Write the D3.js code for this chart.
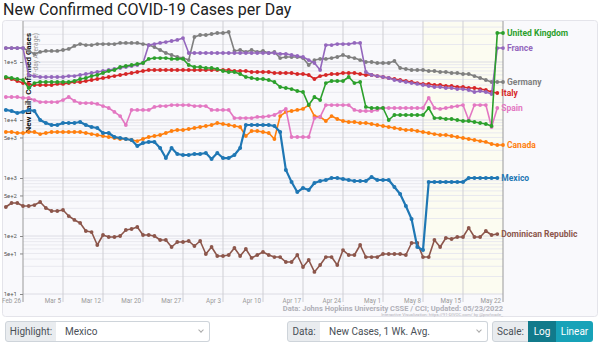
<!DOCTYPE html>
<html>
<head>
<meta charset="utf-8">
<title>New Confirmed COVID-19 Cases per Day</title>
<script src="https://cdn.jsdelivr.net/npm/d3@7/dist/d3.min.js"></script>
<style>
  body { margin: 0; background: #fff; font-family: Roboto, "Open Sans", sans-serif; }
  #graph { position: absolute; left: 0; top: 0; }
  .box { position: absolute; top: 321px; height: 19px; line-height: 19px; font-size: 10px; color: #495057;
         border: 1px solid #ced4da; box-sizing: content-box; white-space: nowrap; }
  .lbl { background: #e9ecef; border-radius: 3px 0 0 3px; text-align: center; }
  .sel { background: #fff; border-left: none; border-radius: 0 3px 3px 0; padding-left: 0; }
  .sel span { position: absolute; left: 9px; }
  .chev { position: absolute; right: 6px; top: 6px; width: 3px; height: 3px;
          border-right: 1px solid #aaa; border-bottom: 1px solid #aaa; transform: rotate(45deg); }
  .btn { color: #fff; border: none; height: 21px; line-height: 21px; text-align: center; }
</style>
</head>
<body>
<svg id="graph" width="600" height="344"></svg>

<div class="box lbl" style="left:5px;width:50px">Highlight:</div>
<div class="box sel" style="left:56px;width:153px"><span>Mexico</span><i class="chev"></i></div>
<div class="box lbl" style="left:287px;width:32px">Data:</div>
<div class="box sel" style="left:320px;width:167px"><span>New Cases, 1 Wk. Avg.</span><i class="chev"></i></div>
<div class="box lbl" style="left:492px;width:35px">Scale:</div>
<div class="box btn" style="left:528px;width:28px;background:#117a8b">Log</div>
<div class="box btn" style="left:556px;width:37px;background:#17a2b8;border-radius:0 3px 3px 0">Linear</div>

<script>
// 7-day average of new confirmed cases, one value per day starting Feb 23 (day -3)
var firstDay = -3;

var germanyCases = [174000, 174000, 174000, 174000,
    155000, 138000, 149000, 155000, 155000, 155000, 161000, 168000,
    189000, 204000, 196000, 196000, 204000, 204000, 204000, 204000,
    213000, 213000, 213000, 213000, 204000, 196000, 181000, 161000,
    143000, 132000, 122000, 117000, 108000, 270000, 292000, 292000,
    304000, 316000, 316000, 329000, 155000, 161000, 149000, 161000,
    149000, 155000, 143000, 149000, 117000, 122000, 122000, 122000,
    117000, 88800, 108000, 113000, 113000, 117000, 122000, 132000,
    122000, 117000, 108000, 100000, 100000, 96100, 96100, 96100,
    104000, 78800, 75700, 72800, 72800, 72800, 70000, 70000,
    67200, 67200, 64600, 64600, 62100, 62100, 57300, 53000,
    48900, 45200, 45200, 45200];

var franceCases = [174000, 174000, 174000, 174000,
    59700, 57300, 55100, 55100, 55100, 55100, 55100, 57300,
    57300, 59700, 62100, 64600, 67200, 70000, 72800, 75700,
    78800, 82000, 85300, 88800, 96100, 196000, 204000, 213000,
    221000, 230000, 240000, 259000, 143000, 143000, 143000, 143000,
    143000, 143000, 143000, 143000, 143000, 143000, 143000, 143000,
    143000, 143000, 143000, 143000, 138000, 138000, 132000, 127000,
    122000, 108000, 96100, 72800, 196000, 196000, 204000, 204000,
    204000, 213000, 213000, 67200, 59700, 57300, 55100, 53000,
    48900, 47000, 45200, 43400, 41800, 40100, 38600, 37100,
    37100, 35600, 35600, 34200, 34200, 32900, 30400, 31600,
    30400, 28100, 174000, 174000];

var ukCases = [55100, 53000, 50900, 48900,
    35600, 43400, 45200, 45200, 45200, 45200, 45200, 45200,
    47000, 50900, 53000, 57300, 59700, 64600, 70000, 72800,
    82000, 85300, 88800, 92400, 96100, 113000, 117000, 117000,
    117000, 113000, 113000, 113000, 88800, 82000, 82000, 78800,
    78800, 75700, 70000, 67200, 67200, 62100, 55100, 53000,
    50900, 50900, 48900, 45200, 37100, 35600, 34200, 31600,
    30400, 18100, 24900, 22100, 43400, 47000, 47000, 47000,
    55100, 43400, 45200, 16800, 16100, 16100, 16100, 10000,
    12200, 12200, 12200, 12200, 12200, 12200, 16100, 10800,
    10800, 10400, 10400, 10000, 9610, 9610, 9240, 8880,
    8530, 7880, 316000, 316000];

var italyCases = [53000, 50900, 47000, 43400,
    41800, 40100, 40100, 40100, 40100, 41800, 41800, 43400,
    45200, 45200, 47000, 48900, 50900, 53000, 55100, 57300,
    59700, 62100, 64600, 67200, 70000, 72800, 72800, 72800,
    72800, 72800, 72800, 72800, 72800, 72800, 72800, 72800,
    72800, 72800, 72800, 72800, 70000, 70000, 70000, 67200,
    67200, 67200, 67200, 64600, 64600, 64600, 64600, 62100,
    62100, 59700, 50900, 57300, 59700, 62100, 62100, 64600,
    64600, 64600, 62100, 59700, 59700, 57300, 55100, 53000,
    50900, 48900, 47000, 45200, 43400, 41800, 41800, 40100,
    40100, 38600, 38600, 37100, 37100, 35600, 35600, 34200,
    32900, 30400, 29200];

var spainCases = [24900, 24900, 24900, 24000,
    24000, 22100, 20400, 20400, 20400, 20400, 22100, 24900,
    21300, 19600, 19600, 19600, 18900, 17400, 16100, 13800,
    11700, 8200, 14900, 14900, 14900, 14900, 16800, 17400,
    17400, 18100, 18100, 18100, 18100, 17400, 17400, 17400,
    14900, 14900, 14900, 14900, 10800, 10800, 10800, 10800,
    11300, 11300, 11700, 12200, 13800, 15500, 5090, 5090,
    5090, 5090, 10800, 11300, 18100, 18100, 18100, 18100,
    18100, 14900, 14300, 14300, 14300, 14900, 16100, 16100,
    16100, 16100, 16100, 16100, 16100, 16100, 24000, 16100,
    15500, 16100, 16800, 17400, 18100, 10000, 18100, 18100,
    18100, 7570, 16100];

var canadaCases = [6210, 6210, 5970, 5970,
    6210, 6210, 5730, 5970, 6210, 6210, 6210, 6210,
    6210, 6210, 5970, 5730, 5510, 5300, 5090, 4890,
    4700, 4700, 4520, 4340, 4700, 5090, 5300, 5510,
    5970, 6460, 6720, 6720, 7000, 7280, 7570, 7880,
    8200, 8880, 8530, 8200, 7880, 7570, 5300, 6460,
    6460, 6210, 5970, 4700, 11700, 13800, 14300, 14900,
    15500, 18100, 11700, 11300, 9610, 11700, 10400, 9610,
    9240, 9240, 8880, 8880, 8530, 8200, 7880, 7570,
    7280, 7000, 6720, 6720, 6460, 6210, 5970, 5730,
    5510, 5510, 5300, 5090, 4890, 4700, 4520, 4340,
    4180, 3860, 3710, 3710];

var mexicoCases = [14900, 14300, 13200, 13800,
    14900, 14300, 10000, 8880, 8200, 8200, 8880, 8880,
    8880, 9240, 8200, 7570, 7280, 5970, 5970, 5090,
    4890, 4700, 4520, 3560, 4010, 4180, 4180, 3290,
    2210, 3290, 2590, 2490, 2490, 2590, 2590, 2700,
    2130, 2700, 2210, 2210, 2490, 3290, 8200, 8200,
    8200, 8200, 8200, 7880, 6210, 1380, 853, 573,
    672, 621, 820, 888, 924, 1000, 1000, 961,
    924, 888, 888, 888, 1040, 924, 924, 924,
    700, 530, 329, 196, 64.6, 57.3, 853, 853,
    853, 853, 853, 853, 853, 1000, 1000, 1000,
    1000, 1000, 1000];

var dominicanCases = [316, 371, 371, 329,
    329, 342, 386, 304, 270, 270, 281, 221,
    189, 168, 122, 117, 70, 104, 96.1, 96.1,
    100, 127, 132, 143, 104, 104, 100, 85.3,
    85.3, 64.6, 78.8, 78.8, 82, 67.2, 82, 48.9,
    64.6, 45.2, 45.2, 47, 62.1, 45.2, 59.7, 41.8,
    47, 53, 47, 43.4, 43.4, 35.6, 35.6, 47,
    29.2, 38.6, 24, 31.6, 43.4, 43.4, 31.6, 57.3,
    47, 47, 70, 43.4, 43.4, 43.4, 48.9, 48.9,
    48.9, 48.9, 47, 75.7, 75.7, 43.4, 43.4, 85.3,
    64.6, 92.4, 88.8, 96.1, 96.1, 138, 96.1, 96.1,
    122, 104, 108];

// weekly tick labels, one every 7 days from Feb 26 (day 0)
var tickLabels = ["Feb 26", "Mar 5", "Mar 12", "Mar 20", "Mar 27", "Apr 3", "Apr 10",
    "Apr 17", "Apr 24", "May 1", "May 8", "May 15", "May 22"];
var yTicks = [10, 50, 100, 500, 1000, 5000, 10000, 100000];

var highlight = "Mexico";

var series = [
    {name: "Dominican Republic", color: "#8c564b", values: dominicanCases},
    {name: "Canada", color: "#ff7f0e", values: canadaCases},
    {name: "Spain", color: "#e377c2", values: spainCases},
    {name: "Italy", color: "#d62728", values: italyCases},
    {name: "Germany", color: "#7f7f7f", values: germanyCases},
    {name: "France", color: "#9467bd", values: franceCases},
    {name: "United Kingdom", color: "#2ca02c", values: ukCases},
    {name: "Mexico", color: "#1f77b4", values: mexicoCases}
];
series.forEach(function(s) {
    s.points = s.values.map(function(v, i) { return {day: firstDay + i, value: v}; });
});

var svg = d3.select("#graph");

var x = d3.scaleLinear().domain([-3.5, 84]).range([3, 503]);
var y = d3.scaleLog().domain([10, 1e6]).range([294, 4]);
var plotTop = 21;

svg.append("text")
    .attr("x", 3)
    .attr("y", 15)
    .attr("font-size", 16)
    .attr("fill", "#222")
    .text("New Confirmed COVID-19 Cases per Day");

// panel behind the plot
svg.append("rect")
    .attr("x", 2.5).attr("y", 20.5)
    .attr("width", 595).attr("height", 296)
    .attr("rx", 3)
    .attr("fill", "#f9f9fc")
    .attr("stroke", "#e4e4ea");

// last two weeks shaded
svg.append("rect")
    .attr("x", x(70)).attr("y", plotTop)
    .attr("width", x(84) - x(70)).attr("height", y(10) - plotTop)
    .attr("fill", "#fcfcf1");

// log gridlines: every 1..9 x 10^k
var gridVals = [];
for (var k = 1; k <= 5; k++) {
    for (var m = 1; m <= 9; m++) {
        var v = m * Math.pow(10, k);
        if (y(v) > plotTop) gridVals.push(v);
    }
}
svg.append("g")
    .selectAll("line")
    .data(gridVals)
    .enter().append("line")
    .attr("x1", x(0)).attr("x2", x(84))
    .attr("y1", function(d) { return y(d); })
    .attr("y2", function(d) { return y(d); })
    .attr("stroke", function(d) { return String(d)[0] === "1" ? "#dcdce4" : "#e9e9ef"; })
    .attr("stroke-width", 1);

var tickDays = tickLabels.map(function(d, i) { return i * 7; });

svg.append("g")
    .selectAll("line")
    .data(tickDays)
    .enter().append("line")
    .attr("x1", function(d) { return x(d); })
    .attr("x2", function(d) { return x(d); })
    .attr("y1", plotTop).attr("y2", 302)
    .attr("stroke", function(d, i) { return (i === 0 || i === tickDays.length - 1) ? "#9a9a9a" : "#cfcfd4"; })
    .attr("stroke-width", 1);

svg.append("g")
    .selectAll("text")
    .data(tickDays)
    .enter().append("text")
    .attr("x", function(d) { return x(d) - 2; })
    .attr("y", 302.5)
    .attr("text-anchor", "end")
    .attr("font-size", 6.3)
    .attr("fill", "#9a9a9a")
    .text(function(d, i) { return tickLabels[i]; });

var yAxis = svg.append("g")
    .attr("transform", "translate(" + x(0) + ",0)")
    .call(d3.axisLeft(y).tickValues(yTicks).tickFormat(d3.format(".0e")).tickSize(3));
yAxis.select(".domain").remove();
yAxis.selectAll("line").attr("stroke", "#888");
yAxis.selectAll("text").attr("font-size", 6).attr("fill", "#555").attr("font-family", "Roboto, sans-serif");

svg.append("text")
    .attr("transform", "translate(31,33) rotate(-90)")
    .attr("text-anchor", "end")
    .attr("font-size", 8)
    .attr("font-weight", "bold")
    .attr("fill", "#111")
    .text("New Daily Confirmed Cases");
svg.append("text")
    .attr("transform", "translate(38,33) rotate(-90)")
    .attr("text-anchor", "end")
    .attr("font-size", 6.5)
    .attr("fill", "#999")
    .text("(7-day Average)");

var line = d3.line()
    .x(function(d) { return x(d.day); })
    .y(function(d) { return y(d.value); });

var lines = svg.append("g").attr("class", "lines");

var countries = lines.selectAll("g")
    .data(series)
    .enter().append("g");

countries.append("path")
    .attr("d", function(d) { return line(d.points); })
    .attr("fill", "none")
    .attr("stroke", function(d) { return d.color; })
    .attr("stroke-width", function(d) { return d.name === highlight ? 2.2 : 1.6; })
    .attr("stroke-linejoin", "round");

countries.selectAll("circle")
    .data(function(d) { return d.points.map(function(p) { return {p: p, s: d}; }); })
    .enter().append("circle")
    .attr("cx", function(d) { return x(d.p.day); })
    .attr("cy", function(d) { return y(d.p.value); })
    .attr("r", function(d) { return d.s.name === highlight ? 2 : 1.9; })
    .attr("fill", function(d) { return d.s.color; });

// country names at the end of each line
countries.append("text")
    .attr("x", function(d) { return x(d.points[d.points.length - 1].day) + 4; })
    .attr("y", function(d) { return y(d.points[d.points.length - 1].value); })
    .attr("dy", "0.35em")
    .attr("font-size", 8.5)
    .attr("font-weight", "bold")
    .attr("fill", function(d) { return d.color; })
    .text(function(d) { return d.name; });

svg.append("text")
    .attr("x", 503).attr("y", 310.5)
    .attr("text-anchor", "end")
    .attr("font-size", 7.5)
    .attr("font-weight", "bold")
    .attr("fill", "#b0b0b8")
    .text("Data: Johns Hopkins University CSSE / CCI; Updated: 05/23/2022");
svg.append("text")
    .attr("x", 503).attr("y", 316)
    .attr("text-anchor", "end")
    .attr("font-size", 4.3)
    .attr("fill", "#b0b0b8")
    .text("Interactive Visualization: https://91-DIVOC.com/ by @profwade_");
</script>
</body>
</html>
